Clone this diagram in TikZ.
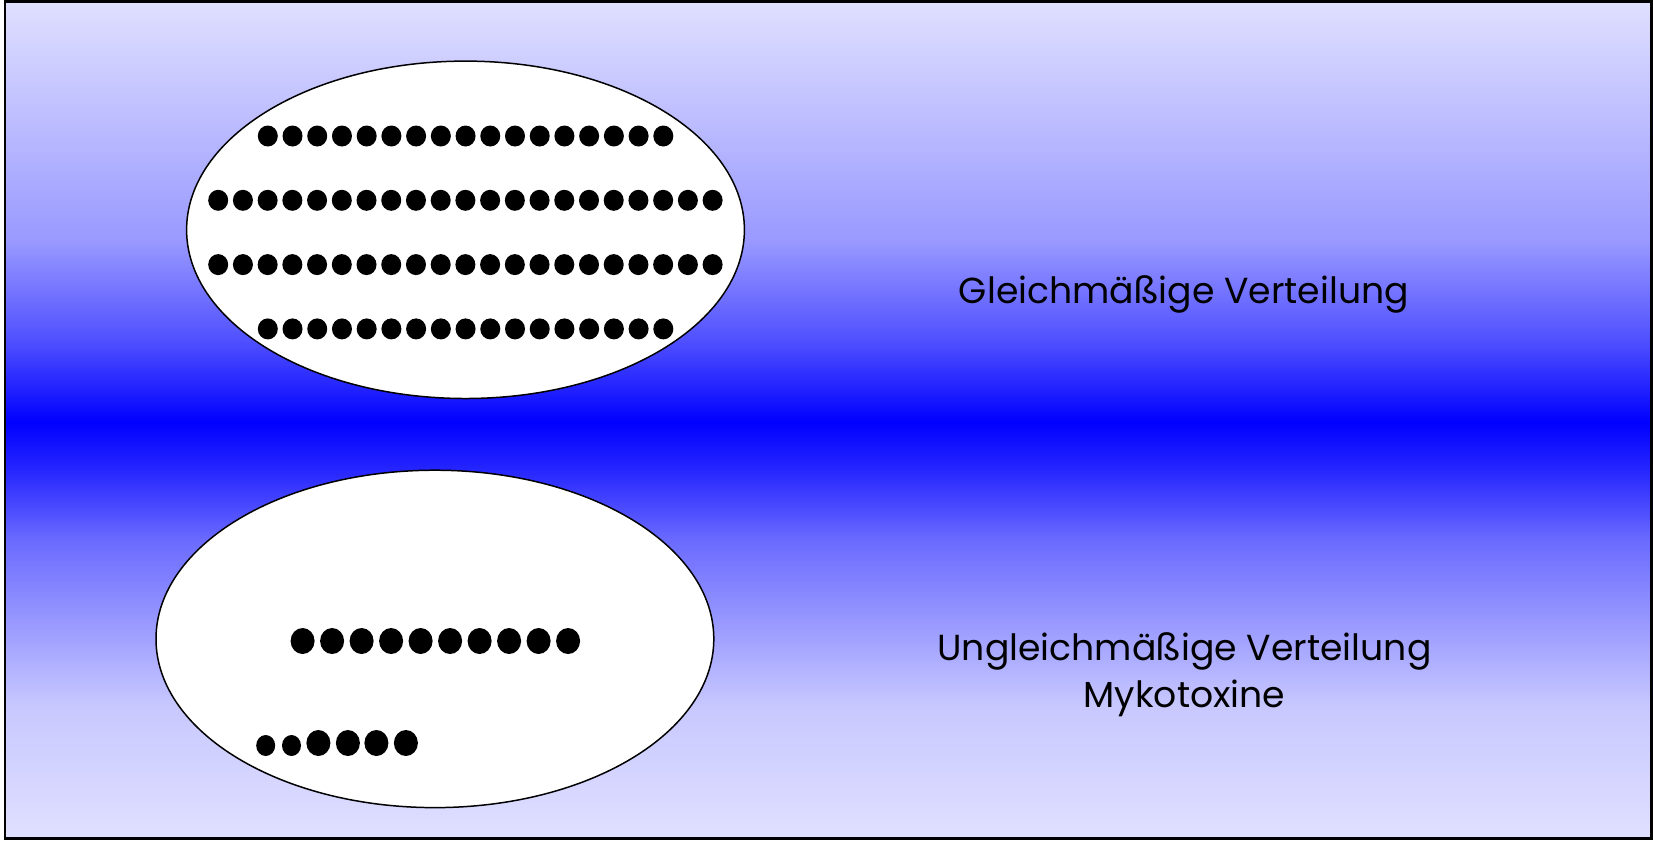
\documentclass[tikz,border=0pt]{standalone}
\usepackage{fontspec}
\setmainfont{Poppins}
\pgfdeclareverticalshading{bgshade}{100bp}{%
  rgb(0bp)=(0.878,0.878,1);
  rgb(25bp)=(0.878,0.878,1);
  rgb(32.9bp)=(0.784,0.784,1);
  rgb(42.86bp)=(0.416,0.416,1);
  rgb(47.0bp)=(0.15,0.15,1);
  rgb(49.88bp)=(0,0,1);
  rgb(52.5bp)=(0.17,0.17,1);
  rgb(54.76bp)=(0.314,0.314,1);
  rgb(60.71bp)=(0.6,0.6,1);
  rgb(75bp)=(0.878,0.878,1);
  rgb(100bp)=(0.878,0.878,1)}
\tikzset{
  frame/.style={draw=black,line width=2.2*0.567pt,shading=bgshade},
  blob/.style={draw=black,line width=1.5*0.567pt,fill=white},
  dotA/.style={fill=black},
  lbl/.style={font=\fontsize{20.6pt}{26.6pt}\selectfont,align=center,text=black,inner sep=0pt}
}
\begin{document}
\begin{tikzpicture}[x=0.02cm,y=-0.02cm]
\useasboundingbox (0,0) rectangle (1653,840);
\path[frame] (5,1.5) rectangle (1651.5,838.5);
% ellipses
\path[blob] (465.5,229.8) ellipse [x radius=278.9, y radius=168.7];
\path[blob] (434.9,638.9) ellipse [x radius=278.9, y radius=168.7];
% top ellipse dots
\foreach \i in {0,...,16}{
  \fill[dotA] (267.8+24.72*\i,136) ellipse [x radius=10, y radius=10.5];
  \fill[dotA] (267.8+24.72*\i,328.9) ellipse [x radius=10, y radius=10.5];
}
\foreach \i in {0,...,20}{
  \fill[dotA] (218.2+24.72*\i,200.3) ellipse [x radius=10, y radius=10.5];
  \fill[dotA] (218.2+24.72*\i,264.6) ellipse [x radius=10, y radius=10.5];
}
% bottom ellipse dots
\foreach \i in {0,...,9}{
  \fill[dotA] (302.6+29.5*\i,641) ellipse [x radius=12, y radius=13];
}
\foreach \x in {318.4,347.9,376.4,405.9}{
  \fill[dotA] (\x,743) ellipse [x radius=12, y radius=13];
}
\foreach \x in {265.7,291.5}{
  \fill[dotA] (\x,745.5) ellipse [x radius=9.5, y radius=10.5];
}
% labels
\node[lbl] (t1) at (1184,294) {Gleichmäßige Verteilung};
\node[lbl] (t2) at (1184.5,675) {Ungleichmäßige Verteilung\\Mykotoxine};
\end{tikzpicture}
\end{document}
